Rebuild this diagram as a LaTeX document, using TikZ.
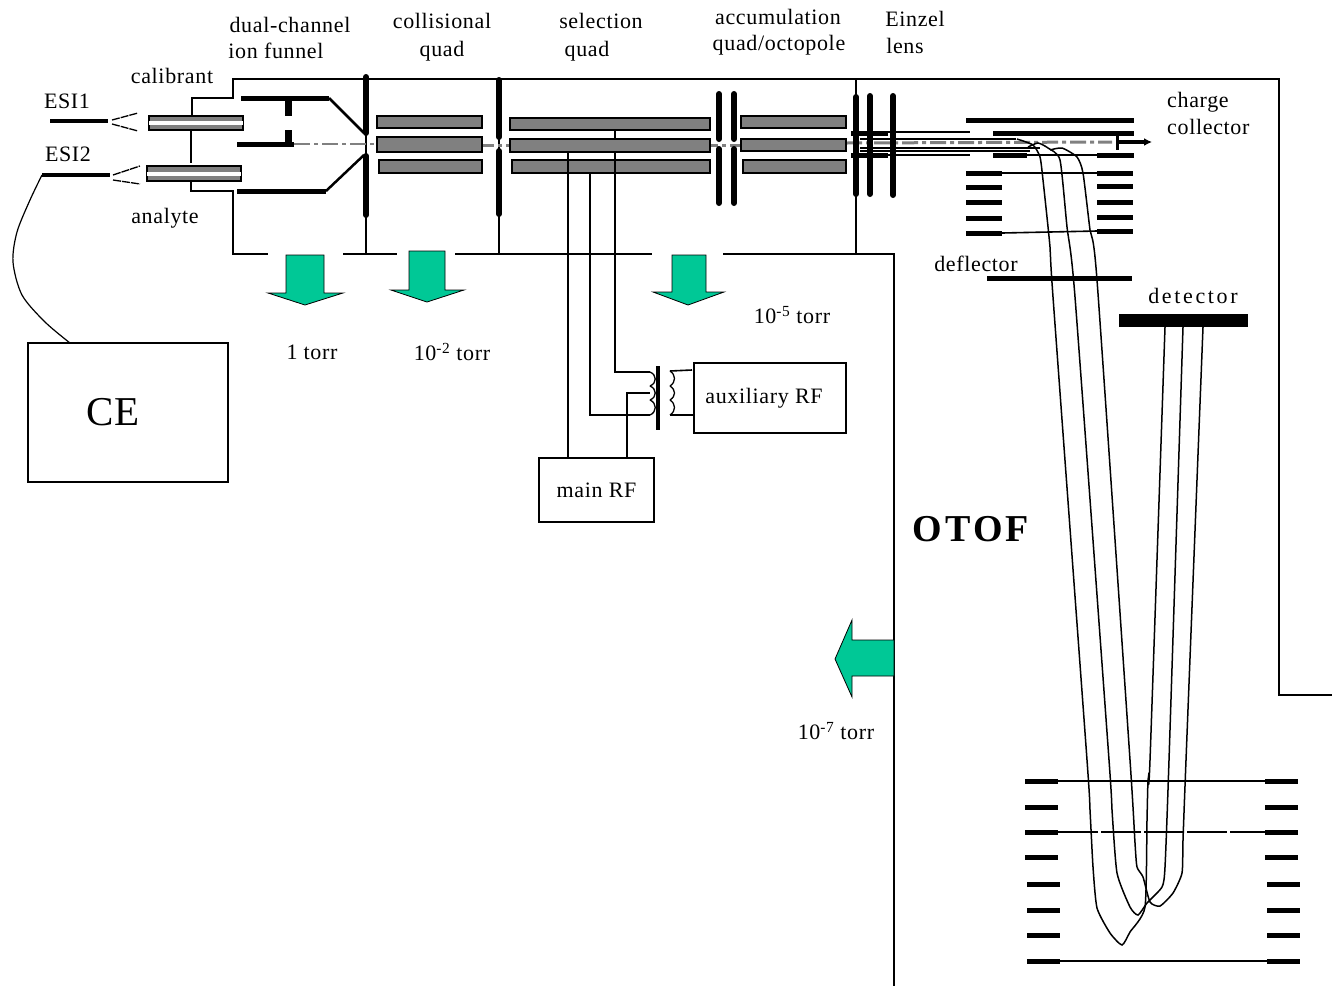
\documentclass[tikz,border=0pt]{standalone}
\usepackage{fontspec}
\setmainfont{Liberation Serif}
\usetikzlibrary{arrows.meta}
\definecolor{PumpGreen}{HTML}{00C896}
\definecolor{RodGray}{HTML}{808080}
\begin{document}
\begin{tikzpicture}[x=1pt, y=-1pt,
  wire/.style={line width=1.6pt, draw=black},
  plate/.style={line width=5pt, draw=black},
  lens/.style={line width=6pt, draw=black, line cap=round},
  spray/.style={line width=1.3pt, draw=black, dash pattern=on 8pt off 1pt},
  path/.style={line width=1.5pt, draw=black, smooth, tension=0.35},
  beam/.style={line width=3pt, draw=RodGray, dash pattern=on 16pt off 4pt on 4pt off 4pt},
  rod/.style={draw=black, line width=1.6pt, fill=RodGray, inner sep=0pt, outer sep=0pt},
  unit/.style={draw=black, line width=1.6pt, fill=white, inner sep=0pt, outer sep=0pt},
  pump/.style={draw=black, line width=0.8pt, fill=PumpGreen},
  label/.style={font=\fontsize{22}{24}\selectfont\addfontfeature{LetterSpace=3}, inner sep=0pt}
]
\useasboundingbox (0,0) rectangle (1332,986);
\node[unit, minimum width=200, minimum height=139] (ce) at (128,412.5)
  {\fontsize{41}{44}\selectfont\raisebox{-3pt}{CE}\hspace*{30pt}};
\node[unit, minimum width=115, minimum height=64] (mainrf) at (596.5,490)
  {\fontsize{22}{24}\selectfont\addfontfeature{LetterSpace=3}\raisebox{-2pt}{main RF}};
\node[unit, minimum width=152, minimum height=70] (auxrf) at (770,398)
  {\fontsize{22}{24}\selectfont\addfontfeature{LetterSpace=3} auxiliary RF\hspace*{12pt}};
\node[label] (esia) at (67,101) {ESI1};
\node[label] (esib) at (68,154) {ESI2};
\node[label] (calib) at (172,76) {calibrant};
\node[label] (analyte) at (165,218) {analyte};
\node[label] at (290,25) {dual-channel};
\node[label] at (276,51) {ion funnel};
\node[label] at (442,21) {collisional};
\node[label] at (442,51) {quad};
\node[label] at (601,21) {selection};
\node[label] at (587,51) {quad};
\node[label] at (778,17) {accumulation};
\node[label] at (779,45) {quad/octopole};
\node[label] at (915,19) {Einzel};
\node[label] at (905,46) {lens};
\node[label, anchor=west] at (1167,102) {charge};
\node[label, anchor=west] at (1167,127) {collector};
\node[label] (deflabel) at (976,264) {deflector};
\node[label, font=\fontsize{22}{24}\selectfont\addfontfeature{LetterSpace=12}] (detlabel) at (1193,296) {detector};
\node[label] at (312,352) {1 torr};
\node[label] at (452,352) {10\textsuperscript{-2} torr};
\node[label] at (792,315) {10\textsuperscript{-5} torr};
\node[label] at (836,731) {10\textsuperscript{-7} torr};
\node[inner sep=0pt] (otof) at (971,529)
  {\fontsize{38}{40}\selectfont\bfseries\addfontfeature{LetterSpace=8} OTOF};

\draw[wire] (192,116) -- (192,98) -- (233,98) -- (233,79) -- (1279,79) -- (1279,695) -- (1332,695);
\draw[wire] (191,130) -- (191,163);
\draw[wire] (191,181) -- (191,191) -- (233,191) -- (233,254) -- (268,254);
\draw[wire] (343,254) -- (397,254);
\draw[wire] (455,254) -- (652,254);
\draw[wire] (723,254) -- (894,254) -- (894,986);
\draw[wire] (366,79) -- (366,254);
\draw[wire] (499,79) -- (499,254);
\draw[wire] (856,79) -- (856,254);

\draw[line width=1.2pt, draw=RodGray, dash pattern=on 16pt off 4pt on 4pt off 4pt] (294,144) -- (378,144);
\draw[beam] (478,145) -- (741,145);
\draw[beam] (846,143) -- (1112,142);

\draw[plate] (241,98) -- (329,98);
\draw[line width=2.5pt] (329,98) -- (364,133);
\draw[lens, line width=7pt, line cap=butt] (288,98) -- (288,116);
\draw[lens, line width=7pt, line cap=butt] (288,130) -- (288,145);
\draw[plate] (237,144) -- (294,144);
\draw[plate] (237,191) -- (326,191);
\draw[line width=2.5pt] (326,191) -- (364,155);
\draw[lens] (366,77) -- (366,133);
\draw[lens] (366,156) -- (366,215);
\draw[lens] (499,80) -- (499,137);
\draw[lens] (499,151) -- (499,214);

\node[rod, minimum width=94, minimum height=14] (capa) at (196,123) {};
\node[unit, draw=none, minimum width=94, minimum height=4] at (196,123) {};
\node[rod, minimum width=94, minimum height=15] (capb) at (194,173.5) {};
\node[unit, draw=none, minimum width=94, minimum height=4] at (194,174) {};
\draw[line width=4pt] (50,121) -- (108,121);
\draw[line width=4pt] (42,175) -- (110,175);
\draw[spray] (112,120) -- (138,113);
\draw[spray] (112,124) -- (138,131);
\draw[spray] (113,175) -- (140,166);
\draw[spray] (113,180) -- (140,184);
\draw[line width=1.2pt, smooth] plot coordinates {(42,175) (30,200) (17,232) (13,262) (22,295) (45,322) (70,343)};

\node[rod, minimum width=105, minimum height=12] (cola) at (429.5,122) {};
\node[rod, minimum width=105, minimum height=15] (colb) at (429.5,144.5) {};
\node[rod, minimum width=103, minimum height=13] (colc) at (430.5,166.5) {};
\node[rod, minimum width=200, minimum height=12] (seltop) at (610,124) {};
\node[rod, minimum width=200, minimum height=13] (selmid) at (610,145.5) {};
\node[rod, minimum width=198, minimum height=13] (selbot) at (611,166.5) {};
\node[rod, minimum width=105, minimum height=12] (acca) at (793.5,122) {};
\node[rod, minimum width=105, minimum height=12] (accb) at (793.5,145) {};
\node[rod, minimum width=103, minimum height=13] (accc) at (794.5,166.5) {};

\coordinate (tapa) at (615,372);
\coordinate (coila) at (650,372);
\coordinate (tapb) at (590,415);
\coordinate (coilb) at (650,415);
\coordinate (tapc) at (568,458);
\coordinate (tapd) at (627,458);
\coordinate (coild) at (650,393);
\coordinate (coile) at (670,371);
\coordinate (coilf) at (670,415);
\draw[wire] (seltop.south -| tapa) -- (selmid.north -| tapa);
\draw[wire] (selmid.south -| tapa) -- (tapa) -- (coila);
\draw[wire] (selbot.south -| tapb) -- (tapb) -- (coilb);
\draw[wire] (selmid.south -| tapc) -- (tapc);
\draw[wire] (tapd) |- (coild);
\foreach \ya/\yb in {372/386,386/400,400/415}
  \draw[wire, line width=1.3pt] (650,\ya) .. controls (657,\ya+3) and (657,\yb-3) .. (650,\yb);
\foreach \ya/\yb in {371/386,386/400,400/415}
  \draw[wire, line width=1.3pt] (670,\ya) .. controls (676,\ya+4) and (676,\yb-4) .. (670,\yb);
\draw[wire] (coile) -- (692,370);
\draw[wire] (coilf) -- (auxrf.west |- coilf);
\draw[line width=4pt] (658,366) -- (658,430);

\draw[lens] (719,94) -- (719,139);
\draw[lens] (719,149) -- (719,203);
\draw[lens] (734,94) -- (734,139);
\draw[lens] (734,149) -- (734,203);
\draw[lens] (856,97) -- (856,194);
\draw[lens] (870,96) -- (870,194);
\draw[lens] (893,96) -- (893,195);

\draw[plate] (851,133) -- (888,133);
\draw[plate] (851,155) -- (888,155);
\draw[line width=2.5pt] (888,132) -- (970,132);
\draw[line width=2.5pt] (888,155) -- (970,155);
\draw[line width=1.5pt] (860,139) -- (1016,139);
\draw[line width=1.5pt] (860,148) -- (1040,148);
\draw[line width=1.5pt] (860,151) -- (1030,151);

\draw[plate] (966,120) -- (1134,120);
\draw[plate] (993,133) -- (1134,133);
\draw[plate] (993,155) -- (1027,155);
\draw[wire] (1027,155) -- (1097,155);
\draw[plate] (1097,155) -- (1134,155);
\draw[line width=3pt] (1117,133) -- (1117,150);
\draw[line width=4pt, -{Latex[length=8pt,width=8pt]}] (1117,142) -- (1152,142);
\foreach \ya/\yb in {173/173,187/186,202/202,218/217,233/231} {
  \draw[plate] (966,\ya) -- (1002,\ya);
  \draw[plate] (1097,\yb) -- (1133,\yb);
}
\draw[wire] (1002,173) -- (1097,173);
\draw[wire] (1002,233) -- (1097,231);
\draw[plate] (987,278) -- (1132,278);
\draw[line width=13pt] (1119,320.5) -- (1248,320.5);

\foreach \yb in {781,807,832,857} {
  \draw[plate] (1025,\yb) -- (1058,\yb);
  \draw[plate] (1265,\yb) -- (1298,\yb);
}
\foreach \yb in {884,910,935,961} {
  \draw[plate] (1027,\yb) -- (1060,\yb);
  \draw[plate] (1267,\yb) -- (1300,\yb);
}
\draw[wire] (1058,781) -- (1265,781);
\draw[wire, dash pattern=on 40pt off 3pt] (1058,832) -- (1265,832);
\draw[wire] (1060,961) -- (1267,961);

\draw[path] plot coordinates {(1017,139) (1033,145) (1040,157) (1043,180) (1050,247) (1053,297) (1087,760) (1090,810) (1093,867) (1097,908) (1110,933) (1122,945) (1130,932) (1145,907) (1147,820) (1148,780) (1150,760) (1165,327)};
\draw[path] plot coordinates {(1028,147) (1038,143) (1048,148) (1060,160) (1067,227) (1075,297) (1109,760) (1112,810) (1117,873) (1130,907) (1138,915) (1147,903) (1162,887) (1165,867) (1169,760) (1183,327)};
\draw[path] plot coordinates {(1050,150) (1062,148) (1077,157) (1083,173) (1090,230) (1097,280) (1130,760) (1135,843) (1137,867) (1143,877) (1150,902) (1160,906) (1173,893) (1182,873) (1183,840) (1186,760) (1203,327)};

\draw[pump] (286,255) -- (324,255) -- (324,293) -- (343,293) -- (305,305) -- (268,293) -- (286,293) -- cycle;
\draw[pump] (409,251) -- (445,251) -- (445,290) -- (464,290) -- (427,302) -- (391,290) -- (409,290) -- cycle;
\draw[pump] (672,255) -- (706,255) -- (706,292) -- (724,292) -- (688,305) -- (653,292) -- (672,292) -- cycle;
\draw[pump] (894,640) -- (852,640) -- (852,620) -- (835,659) -- (852,697) -- (852,676) -- (894,676) -- cycle;
\end{tikzpicture}
\end{document}
